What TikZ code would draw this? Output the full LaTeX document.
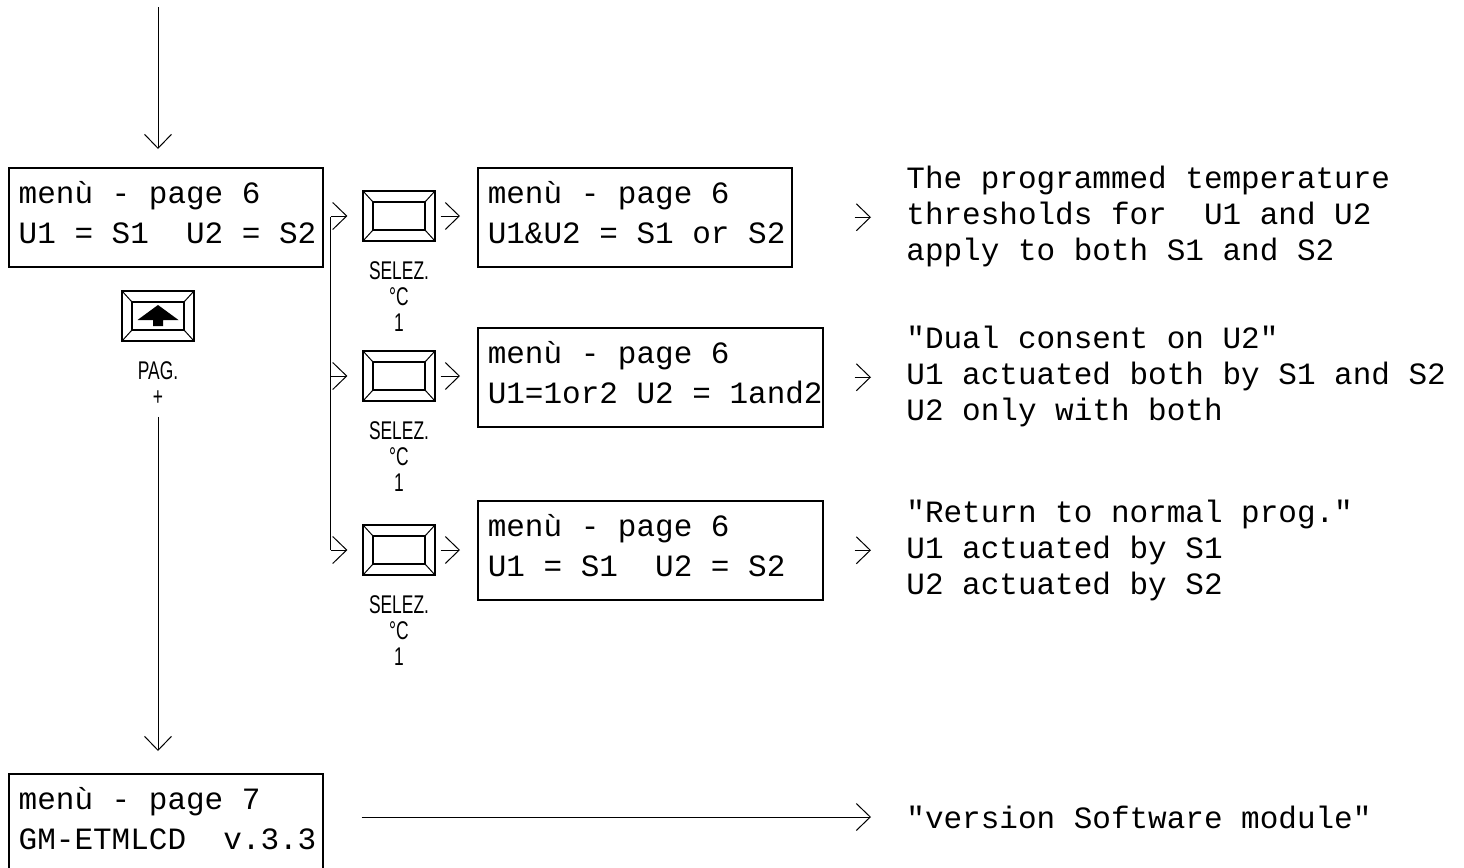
\documentclass[tikz,border=0pt]{standalone}
\usepackage{fontspec}
\usetikzlibrary{arrows.meta,positioning}

\newfontfamily\lcdfont[WordSpace={1,0,0}]{Liberation Mono}
\newfontfamily\keyfont[FakeStretch=0.68]{Liberation Sans}

\tikzset{
  lcd/.style={draw, line width=0.75pt, anchor=north west, minimum height=49.5pt,
    inner xsep=5pt, inner ysep=0pt, text depth=24.5pt, align=left,
    font=\lcdfont\fontsize{15.5pt}{20pt}\selectfont,
    execute at begin node={\spaceskip=0pt\xspaceskip=0pt
      \rightskip=0pt plus 1fil minus 30pt}},
  note/.style={anchor=west, inner sep=0pt, align=left,
    font=\lcdfont\fontsize{15.5pt}{18pt}\selectfont},
  keycap/.style={draw, line width=0.6pt, minimum width=36pt, minimum height=25pt,
    inner sep=0pt,
    path picture={
      \draw[line width=1.3pt]
        ([shift={(5pt,5.5pt)}]path picture bounding box.south west) rectangle
        ([shift={(-5pt,-5.5pt)}]path picture bounding box.north east);
      \draw[line width=0.5pt]
        (path picture bounding box.south west) -- ++(5pt,5.5pt)
        (path picture bounding box.south east) -- ++(-5pt,5.5pt)
        (path picture bounding box.north west) -- ++(5pt,-5.5pt)
        (path picture bounding box.north east) -- ++(-5pt,-5.5pt);
    }},
  keylabel/.style={inner sep=0pt, align=center,
    font=\keyfont\fontsize{12.8pt}{12.8pt}\selectfont},
  arr/.style={-{Straight Barb[length=7pt,width=13.5pt]}, line width=0.5pt},
}

\begin{document}
\begin{tikzpicture}[x=0.5pt,y=-0.5pt]
\useasboundingbox (0,0) rectangle (1464,868);

% Page 6 as shown on entry
\node[lcd, minimum width=157pt, text width=147pt] (p6) at (8,167)
  {menù - page 6\\U1 = S1\ \ U2 = S2};

\coordinate (in) at (158,7);
\draw[arr, shorten >=9pt] (in) -- (in |- p6.north);

% PAG+ key
\node[keycap] (pag) at (158,316) {};
\fill[shift={(pag.center)}] (0,-11) -- (20.5,4) -- (5,4) -- (5,10)
  -- (-5,10) -- (-5,4) -- (-20.5,4) -- cycle;
\node[keylabel, below=10pt of pag] (paglbl) {PAG.\\+};

% Page 7
\node[lcd, minimum width=157pt, text width=147pt] (p7) at (8,773)
  {menù - page 7\\GM-ETMLCD\ \ v.3.3};
\draw[arr, shorten <=5.5pt, shorten >=11pt] (paglbl.south) -- (paglbl.south |- p7.north);

% ---- SELEZ key, three presses ----
\node[keycap] (sel1) at (399,216) {};
\node[keycap] (sel2) at (399,376) {};
\node[keycap] (sel3) at (399,550) {};
\node[keylabel, below=10pt of sel1] (sellbl1) {SELEZ.\\°C\\1};
\node[keylabel, below=10pt of sel2] (sellbl2) {SELEZ.\\°C\\1};
\node[keylabel, below=10pt of sel3] (sellbl3) {SELEZ.\\°C\\1};

% Branch line
\coordinate (fork) at ([xshift=3.5pt]p6.east);
\draw[line width=0.6pt] (fork) -- (fork |- sel3);
\draw[arr, shorten >=7.5pt] (fork |- sel1) -- (sel1.west);
\draw[arr, shorten >=7.5pt] (fork |- sel2) -- (sel2.west);
\draw[arr, shorten >=7.5pt] (fork |- sel3) -- (sel3.west);

% Resulting displays
\node[lcd, minimum width=157pt, text width=147pt] (disp1) at (477,167)
  {menù - page 6\\U1\&U2 = S1 or S2};
\node[lcd, minimum width=172.5pt, text width=162.5pt] (disp2) at (477,327)
  {menù - page 6\\U1=1or2 U2 = 1and2};
\node[lcd, minimum width=172.5pt, text width=162.5pt] (disp3) at (477,500)
  {menù - page 6\\U1 = S1\ \ U2 = S2};

\draw[arr, shorten <=2.5pt, shorten >=8.5pt] (sel1.east) -- (sel1.east -| disp1.west);
\draw[arr, shorten <=2.5pt, shorten >=8.5pt] (sel2.east) -- (sel2.east -| disp2.west);
\draw[arr, shorten <=2.5pt, shorten >=8.5pt] (sel3.east) -- (sel3.east -| disp3.west);

% Explanations
\node[note] (note1) at (906,216)
  {The programmed temperature\\thresholds for\ \ U1 and U2\\apply to both S1 and S2};
\node[note] (note2) at (906,376)
  {"Dual consent on U2"\\U1 actuated both by S1 and S2\\U2 only with both};
\node[note] (note3) at (906,550)
  {"Return to normal prog."\\U1 actuated by S1\\U2 actuated by S2};
\node[note] (note4) at (906,817) {"version Software module"};

\draw[arr, shorten <=31pt, shorten >=17.5pt] (disp1.east) -- (disp1.east -| note1.west);
\draw[arr, shorten <=15.5pt, shorten >=17.5pt] (disp2.east) -- (disp2.east -| note2.west);
\draw[arr, shorten <=15.5pt, shorten >=17.5pt] (disp3.east) -- (disp3.east -| note3.west);
\draw[arr, shorten <=19pt, shorten >=17.5pt] (note4.west -| p7.east) -- (note4.west);

\end{tikzpicture}
\end{document}
